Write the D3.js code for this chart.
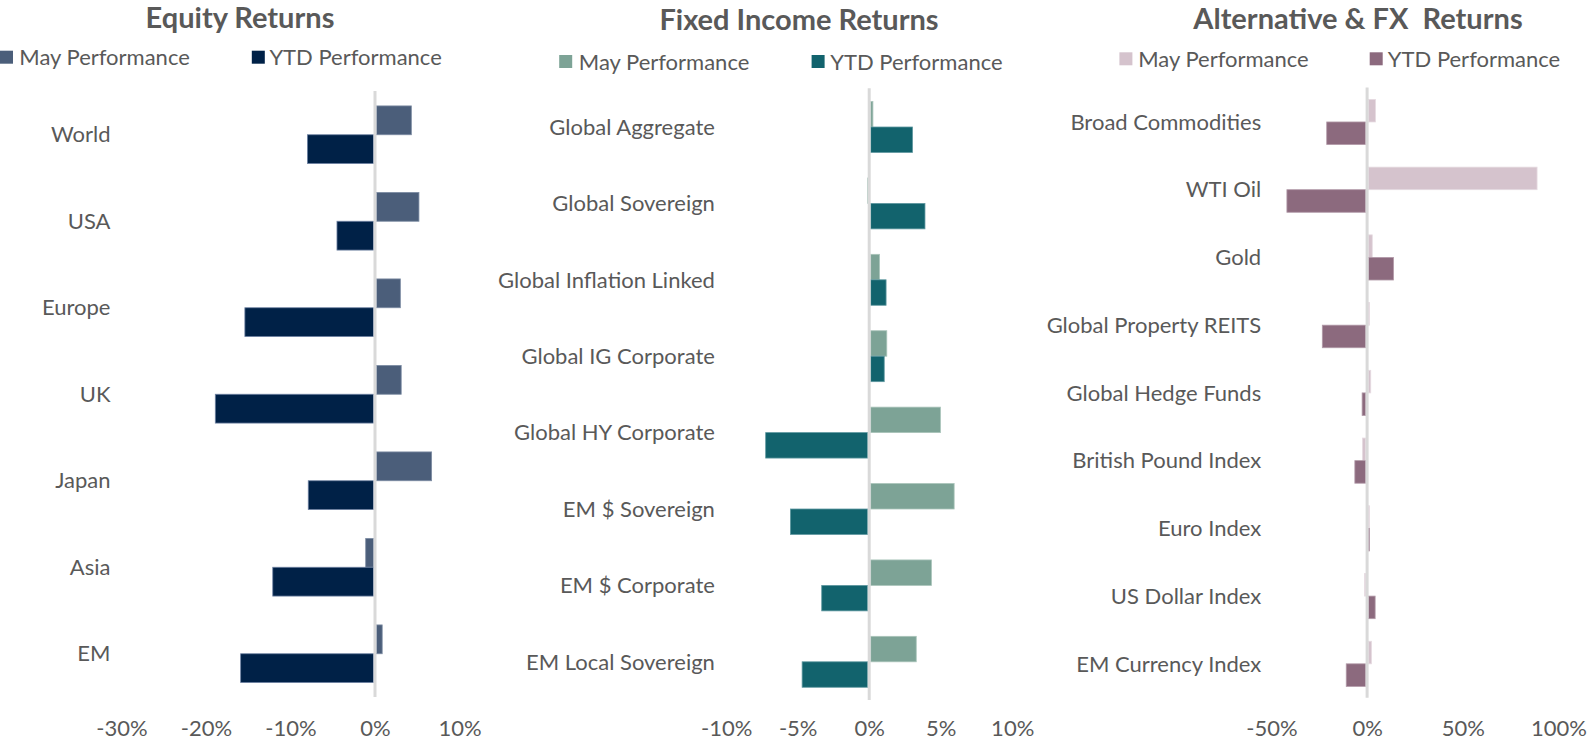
<!DOCTYPE html>
<html>
<head>
<meta charset="utf-8">
<script src="https://cdn.jsdelivr.net/npm/d3@7/dist/d3.min.js"></script>
<style>
  html, body { margin: 0; padding: 0; background: #ffffff; }
  svg { display: block; }
  text { font-family: Lato, "Open Sans", sans-serif; fill: #595959; }
</style>
</head>
<body>
<svg id="chart" width="1587" height="746"></svg>
<script>
// ---------- DATA ----------
const seriesNames = ["May Performance", "YTD Performance"];

const equityCats = ["World", "USA", "Europe", "UK", "Japan", "Asia", "EM"];
const equityMay  = [4.3, 5.2, 3.0, 3.1, 6.7, -1.1, 0.85];
const equityYtd  = [-8.0, -4.5, -15.4, -18.9, -7.9, -12.1, -15.9];
const equityTicks = [-30, -20, -10, 0, 10];

const fiCats = ["Global Aggregate", "Global Sovereign", "Global Inflation Linked", "Global IG Corporate",
                "Global HY Corporate", "EM $ Sovereign", "EM $ Corporate", "EM Local Sovereign"];
const fiMay  = [0.26, -0.1, 0.72, 1.23, 4.98, 5.94, 4.35, 3.29];
const fiYtd  = [3.03, 3.9, 1.18, 1.05, -7.24, -5.51, -3.32, -4.69];
const fiTicks = [-10, -5, 0, 5, 10];

const altCats = ["Broad Commodities", "WTI Oil", "Gold", "Global Property REITS", "Global Hedge Funds",
                 "British Pound Index", "Euro Index", "US Dollar Index", "EM Currency Index"];
const altMay  = [4.4, 88.8, 2.7, 0.3, 1.9, -2.4, 1.2, -1.3, 2.3];
const altYtd  = [-21.1, -41.9, 13.8, -23.4, -2.6, -6.4, 0.3, 4.2, -10.9];
const altTicks = [-50, 0, 50, 100];

// ---------- LAYOUT ----------
const panels = [
  { title: "Equity Returns", cats: equityCats, may: equityMay, ytd: equityYtd, ticks: equityTicks,
    domain: [-30, 10], xRange: [121.5, 459.5], yRange: [91.5, 697],
    labelRight: 110.5, titleX: 240, titleY: 28,
    colors: ["#4b5e7a", "#002147"], strokes: ["#7d8ca3", "#6f83a3"],
    legend: { y: 50.7, text: [19.3, 269.4], sq: [0, 251.8] } },
  { title: "Fixed Income Returns", cats: fiCats, may: fiMay, ytd: fiYtd, ticks: fiTicks,
    domain: [-10, 10], xRange: [726.2, 1012.2], yRange: [88.8, 700],
    labelRight: 714.9, titleX: 799, titleY: 30,
    colors: ["#7da396", "#12636d"], strokes: ["#a9c4ba", "#5f98a0"],
    legend: { y: 55, text: [578.8, 830.2], sq: [559.2, 811.6] } },
  { title: "Alternative & FX\u00a0 Returns", cats: altCats, may: altMay, ytd: altYtd, ticks: altTicks,
    domain: [-50, 100], xRange: [1271.4, 1558.5], yRange: [88.1, 697.7],
    labelRight: 1261.2, titleX: 1358, titleY: 28.5,
    colors: ["#d5c3cd", "#8c6a7e"], strokes: ["#e6dbe1", "#b29aa8"],
    legend: { y: 52.3, text: [1138.2, 1387.8], sq: [1119.4, 1369.7] } }
];

const svg = d3.select("#chart");

panels.forEach(p => {
  const g = svg.append("g");
  const x = d3.scaleLinear().domain(p.domain).range(p.xRange);
  const y = d3.scaleBand().domain(p.cats).range(p.yRange).paddingInner(1/3).paddingOuter(1/6);
  const ySub = d3.scaleBand().domain(seriesNames).range([0, y.bandwidth()]);

  // title
  g.append("text")
    .attr("x", p.titleX).attr("y", p.titleY)
    .attr("text-anchor", "middle")
    .style("font-size", "29px").style("font-weight", "bold")
    .text(p.title);

  // legend
  seriesNames.forEach((s, i) => {
    g.append("rect")
      .attr("x", p.legend.sq[i]).attr("y", p.legend.y)
      .attr("width", 13).attr("height", 13)
      .attr("fill", p.colors[i]);
    g.append("text")
      .attr("x", p.legend.text[i]).attr("y", p.legend.y + 6.8)
      .attr("dy", "0.35em")
      .style("font-size", "22px")
      .text(s);
  });

  // bars
  const rows = p.cats.map((c, i) => ({ cat: c, vals: [p.may[i], p.ytd[i]] }));
  const rowG = g.selectAll("g.row").data(rows).join("g")
    .attr("class", "row")
    .attr("transform", d => `translate(0,${y(d.cat)})`);
  rowG.selectAll("rect").data(d => d.vals.map((v, i) => ({ v, s: seriesNames[i], i }))).join("rect")
    .attr("x", d => Math.min(x(0), x(d.v)) + (d.v >= 0 ? 1.5 : 0))
    .attr("y", d => ySub(d.s))
    .attr("width", d => Math.max(0.8, Math.abs(x(d.v) - x(0)) - 1.5))
    .attr("height", ySub.bandwidth())
    .attr("fill", d => p.colors[d.i])
    .attr("stroke", d => p.strokes[d.i])
    .attr("stroke-width", 0.8);

  // zero line
  g.append("line")
    .attr("x1", x(0)).attr("x2", x(0))
    .attr("y1", p.yRange[0] - 0.5).attr("y2", p.yRange[1])
    .attr("stroke", "#d9d9d9").attr("stroke-width", 3);

  // category axis
  const yAxis = g.append("g")
    .attr("transform", `translate(${p.labelRight},0)`)
    .call(d3.axisLeft(y).tickSize(0).tickPadding(0));
  yAxis.select(".domain").remove();
  yAxis.selectAll("text")
    .attr("x", 0).attr("dy", "0.35em")
    .style("font-size", "22px")
    .style("font-family", "Lato, 'Open Sans', sans-serif")
    .attr("fill", "#595959");

  // value axis
  const xAxis = g.append("g")
    .attr("transform", `translate(0,728)`)
    .call(d3.axisBottom(x).tickValues(p.ticks).tickSize(0).tickFormat(d => d + "%"));
  xAxis.select(".domain").remove();
  xAxis.selectAll("text")
    .attr("y", 0).attr("dy", "0.35em")
    .style("font-size", "22px")
    .style("font-family", "Lato, 'Open Sans', sans-serif")
    .attr("fill", "#595959");
});
</script>
</body>
</html>
